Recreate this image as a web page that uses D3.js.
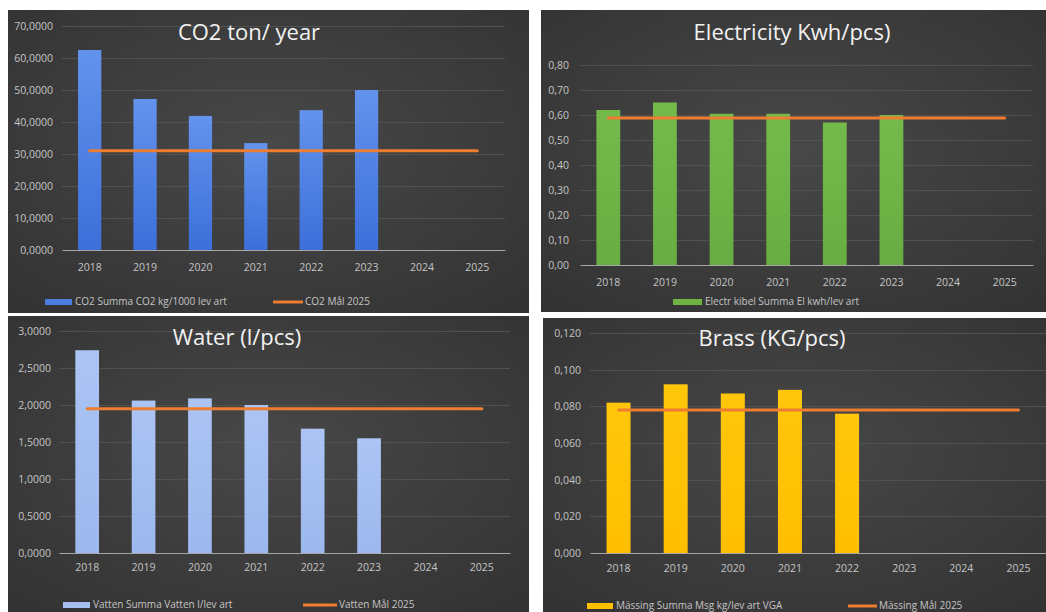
<!DOCTYPE html>
<html>
<head>
<meta charset="utf-8">
<script src="https://cdn.jsdelivr.net/npm/d3@7"></script>
<style>
  html, body { margin: 0; padding: 0; background: #ffffff; }
  svg { display: block; }
</style>
</head>
<body>
<svg id="chart" width="1046" height="612"></svg>
<script>
// ---------- DATA ----------
const years = ["2018", "2019", "2020", "2021", "2022", "2023", "2024", "2025"];

const co2Values    = [62.5, 47.2, 41.9, 33.4, 43.7, 50.0, null, null];
const co2Target    = [31.0, 31.0, 31.0, 31.0, 31.0, 31.0, 31.0, 31.0];
const co2Ticks     = [0, 10, 20, 30, 40, 50, 60, 70];

const elValues     = [0.62, 0.65, 0.605, 0.605, 0.57, 0.60, null, null];
const elTarget     = [0.588, 0.588, 0.588, 0.588, 0.588, 0.588, 0.588, 0.588];
const elTicks      = [0, 0.1, 0.2, 0.3, 0.4, 0.5, 0.6, 0.7, 0.8];

const waterValues  = [2.74, 2.06, 2.09, 2.00, 1.68, 1.55, null, null];
const waterTarget  = [1.95, 1.95, 1.95, 1.95, 1.95, 1.95, 1.95, 1.95];
const waterTicks   = [0, 0.5, 1.0, 1.5, 2.0, 2.5, 3.0];

const brassValues  = [0.082, 0.092, 0.087, 0.089, 0.076, null, null, null];
const brassTarget  = [0.078, 0.078, 0.078, 0.078, 0.078, 0.078, 0.078, 0.078];
const brassTicks   = [0, 0.02, 0.04, 0.06, 0.08, 0.10, 0.12];

const titles = ["CO2 ton/ year", "Electricity Kwh/pcs)", "Water (l/pcs)", "Brass (KG/pcs)"];
const barLegends = ["CO2 Summa CO2 kg/1000 lev art", "Electr kibel Summa El kwh/lev art",
                    "Vatten Summa Vatten l/lev art", "Mässing Summa Msg kg/lev art VGA"];
const lineLegends = ["CO2 Mål 2025", null, "Vatten Mål 2025", "Mässing Mål 2025"];

// ---------- SETUP ----------
const svg = d3.select("#chart");
const loc = d3.formatLocale({decimal: ",", thousands: " ", grouping: [3], currency: ["", ""]});
const defs = svg.append("defs");

const bg = defs.append("radialGradient").attr("id", "bgGrad")
  .attr("cx", "50%").attr("cy", "45%").attr("r", "75%");
bg.append("stop").attr("offset", "0%").attr("stop-color", "#484848");
bg.append("stop").attr("offset", "100%").attr("stop-color", "#323232");

function barGrad(id, top, bottom) {
  const g = defs.append("linearGradient").attr("id", id)
    .attr("x1", 0).attr("y1", 0).attr("x2", 0).attr("y2", 1);
  g.append("stop").attr("offset", "0%").attr("stop-color", top);
  g.append("stop").attr("offset", "100%").attr("stop-color", bottom);
}
barGrad("gBlue", "#6393ec", "#3d6fda");
barGrad("gGreen", "#74ba4b", "#67ad41");
barGrad("gLight", "#abc4f4", "#9db8ee");
barGrad("gYellow", "#ffc60a", "#ffbf00");

const glow = defs.append("filter").attr("id", "glow")
  .attr("x", "-5%").attr("y", "-200%").attr("width", "110%").attr("height", "500%");
glow.append("feGaussianBlur").attr("stdDeviation", 1.6);

const panels = [
  { box: [8, 10, 529, 313], xr: [62, 505], y0: 250, y1: 26, dom: [0, 70], ticks: co2Ticks, fmt: ".4f",
    labelX: 53, values: co2Values, target: co2Target, fill: "url(#gBlue)", swatch: "#4a7ddf",
    title: titles[0], titleX: 249, titleY: 40, tickY: 268,
    legY: 302, leg1: [45, 72], leg2: [273, 303], barLeg: barLegends[0], lineLeg: lineLegends[0] },
  { box: [541, 10, 1046, 312], xr: [580, 1033], y0: 265, y1: 65, dom: [0, 0.8], ticks: elTicks, fmt: ".2f",
    labelX: 569, values: elValues, target: elTarget, fill: "url(#gGreen)", swatch: "#6fb443",
    title: titles[1], titleX: 792, titleY: 40, tickY: 283,
    legY: 302, leg1: [673, 702], leg2: null, barLeg: barLegends[1], lineLeg: lineLegends[1] },
  { box: [8, 316, 529, 612], xr: [59, 510], y0: 553, y1: 331, dom: [0, 3], ticks: waterTicks, fmt: ".4f",
    labelX: 51, values: waterValues, target: waterTarget, fill: "url(#gLight)", swatch: "#a5bff0",
    title: titles[2], titleX: 237, titleY: 345, tickY: 568,
    legY: 605, leg1: [63, 90], leg2: [303, 337], barLeg: barLegends[2], lineLeg: lineLegends[2] },
  { box: [543, 318, 1046, 612], xr: [590, 1047], y0: 553, y1: 333, dom: [0, 0.12], ticks: brassTicks, fmt: ".3f",
    labelX: 581, values: brassValues, target: brassTarget, fill: "url(#gYellow)", swatch: "#ffc000",
    title: titles[3], titleX: 772, titleY: 346, tickY: 569,
    legY: 606, leg1: [587, 613], leg2: [848, 877], barLeg: barLegends[3], lineLeg: lineLegends[3] }
];

const font = "'Open Sans', 'Noto Sans', sans-serif";

panels.forEach((p, i) => {
  const g = svg.append("g");
  const [bx0, by0, bx1, by1] = p.box;
  g.append("rect").attr("x", bx0).attr("y", by0).attr("width", bx1 - bx0).attr("height", by1 - by0)
    .attr("fill", "url(#bgGrad)");

  const x = d3.scaleBand().domain(years).range(p.xr).paddingInner(0.58).paddingOuter(0.29);
  const y = d3.scaleLinear().domain(p.dom).range([p.y0, p.y1]);

  // gridlines
  g.append("g").selectAll("line").data(p.ticks.slice(1)).join("line")
    .attr("x1", p.xr[0]).attr("x2", p.xr[1])
    .attr("y1", d => Math.round(y(d)) + 0.5).attr("y2", d => Math.round(y(d)) + 0.5)
    .attr("stroke", "#515151").attr("stroke-width", 1);

  // y axis labels
  const yAxis = d3.axisLeft(y).tickValues(p.ticks).tickFormat(loc.format(p.fmt)).tickSize(0).tickPadding(0);
  const ya = g.append("g").attr("transform", `translate(${p.labelX},0)`).call(yAxis);
  ya.select(".domain").remove();
  ya.selectAll("text").attr("fill", "#c4c4c4").attr("font-size", 10.5).attr("font-family", font);

  // bars
  const barData = years.map((yr, k) => ({yr, v: p.values[k]})).filter(d => d.v != null);
  g.append("g").selectAll("rect").data(barData).join("rect")
    .attr("x", d => x(d.yr)).attr("width", x.bandwidth())
    .attr("y", d => y(d.v)).attr("height", d => y(0) - y(d.v))
    .attr("fill", p.fill);

  // x axis
  const xAxis = d3.axisBottom(x).tickSize(0).tickPadding(0);
  const xa = g.append("g").attr("transform", `translate(0,${p.y0})`).call(xAxis);
  xa.select(".domain").attr("stroke", "#a6a6a6").attr("stroke-width", 1.2);
  xa.selectAll("text").attr("fill", "#c4c4c4").attr("font-size", 10.5).attr("font-family", font)
    .attr("dy", null).attr("y", p.tickY - p.y0).attr("dominant-baseline", "middle");

  // target line
  const line = d3.line().x((d, k) => x(years[k]) + x.bandwidth() / 2).y(d => y(d));
  g.append("path").attr("d", line(p.target)).attr("fill", "none")
    .attr("stroke", "#f0a060").attr("stroke-width", 5).attr("opacity", 0.55)
    .attr("filter", "url(#glow)");
  g.append("path").attr("d", line(p.target)).attr("fill", "none")
    .attr("stroke", "#ed7d31").attr("stroke-width", 3).attr("stroke-linecap", "round");

  // title
  g.append("text").attr("x", p.titleX).attr("y", p.titleY).attr("text-anchor", "middle")
    .attr("fill", "#f2f2f2").attr("font-size", 22).attr("font-family", font).text(p.title);

  // legend
  g.append("rect").attr("x", p.leg1[0]).attr("y", p.legY - 3).attr("width", p.leg1[1] - p.leg1[0]).attr("height", 6)
    .attr("fill", p.swatch);
  g.append("text").attr("x", p.leg1[1] + 3).attr("y", p.legY).attr("dominant-baseline", "middle")
    .attr("fill", "#c4c4c4").attr("font-size", 10).attr("font-family", font).text(p.barLeg);
  if (p.leg2) {
    g.append("line").attr("x1", p.leg2[0]).attr("x2", p.leg2[1]).attr("y1", p.legY).attr("y2", p.legY)
      .attr("stroke", "#ed7d31").attr("stroke-width", 3);
    g.append("text").attr("x", p.leg2[1] + 2).attr("y", p.legY).attr("dominant-baseline", "middle")
      .attr("fill", "#c4c4c4").attr("font-size", 10).attr("font-family", font).text(p.lineLeg);
  }
});
</script>
</body>
</html>
